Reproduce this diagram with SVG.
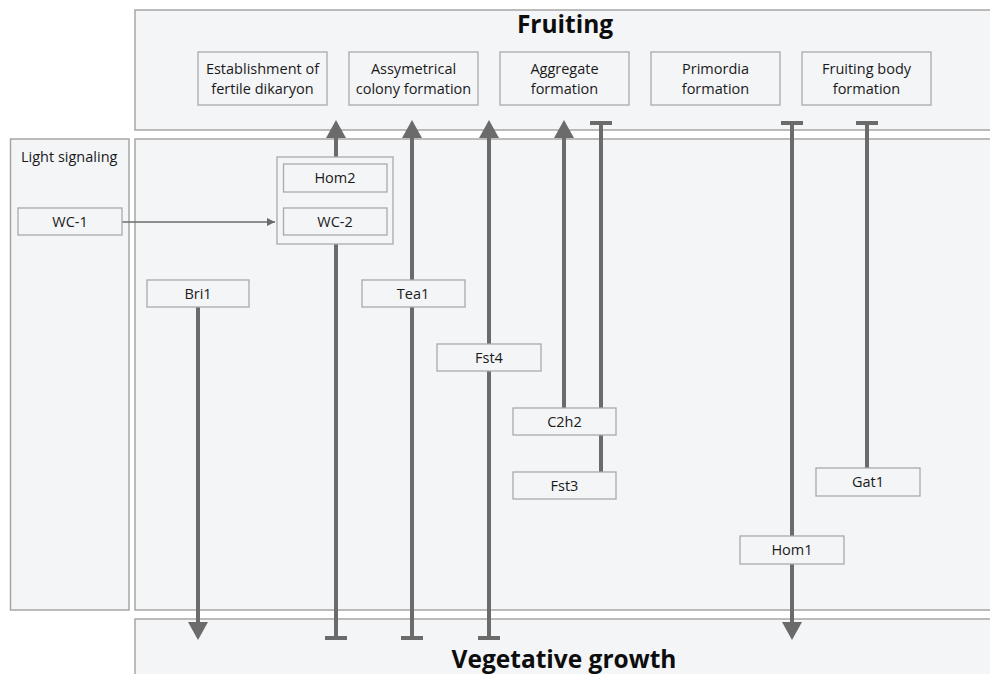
<svg xmlns="http://www.w3.org/2000/svg" width="990" height="674" viewBox="0 0 990 674">
<defs>
<style>
.panel{fill:#f4f5f7;stroke:#a6a6a6;stroke-width:1.5}
.box{fill:#f4f5f7;stroke:#a9a9a9;stroke-width:1.3}
.t{font-family:"Open Sans","DejaVu Sans",sans-serif;font-size:14.5px;fill:#1a1a1a;text-anchor:middle}
.title{font-family:"Open Sans","DejaVu Sans",sans-serif;font-size:24.5px;font-weight:bold;fill:#0d0d0d;text-anchor:middle}
.lbl{font-family:"Open Sans","DejaVu Sans",sans-serif;font-size:14.5px;fill:#1a1a1a}
.c{stroke:#6b6b6b;stroke-width:4;fill:none}
.thin{stroke:#6b6b6b;stroke-width:1.5;fill:none}
</style>
<marker id="arr" markerUnits="userSpaceOnUse" viewBox="0 0 18 20" markerWidth="18" markerHeight="20" refX="0" refY="10" orient="auto">
<path d="M0,0 L18,10 L0,20 z" fill="#6b6b6b"/>
</marker>
<marker id="tee" markerUnits="userSpaceOnUse" viewBox="-2 -11 4 22" markerWidth="4" markerHeight="22" refX="0" refY="0" orient="auto">
<path d="M0,-11 L0,11" stroke="#6b6b6b" stroke-width="4"/>
</marker>
<marker id="small" markerUnits="userSpaceOnUse" viewBox="0 0 8 8" markerWidth="8" markerHeight="8" refX="8" refY="4" orient="auto">
<path d="M0,0 L8,4 L0,8 z" fill="#6b6b6b"/>
</marker>
</defs>
<rect width="990" height="674" fill="#ffffff"/>
<g id="panels">
<rect id="fruiting-panel" class="panel" x="135" y="10" width="870" height="120"/>
<rect id="light-panel" class="panel" x="10.5" y="139" width="118.5" height="471"/>
<rect id="middle-panel" class="panel" x="135" y="139" width="870" height="471"/>
<rect id="vegetative-panel" class="panel" x="135" y="619" width="870" height="70"/>
<text class="title" x="565" y="33">Fruiting</text>
<text class="title" x="564" y="668">Vegetative growth</text>
<text class="lbl" x="21" y="162">Light signaling</text>
</g>
<g id="connectors">
<line class="thin" x1="122" y1="222" x2="275" y2="222" marker-end="url(#small)"/>
<line class="c" x1="198" y1="307" x2="198" y2="622" marker-end="url(#arr)"/>
<line class="c" x1="336" y1="638" x2="336" y2="138" marker-start="url(#tee)" marker-end="url(#arr)"/>
<line class="c" x1="412" y1="638" x2="412" y2="138" marker-start="url(#tee)" marker-end="url(#arr)"/>
<line class="c" x1="489" y1="638" x2="489" y2="138" marker-start="url(#tee)" marker-end="url(#arr)"/>
<line class="c" x1="564" y1="408" x2="564" y2="138" marker-end="url(#arr)"/>
<line class="c" x1="601" y1="472" x2="601" y2="123" marker-end="url(#tee)"/>
<line class="c" x1="792" y1="123" x2="792" y2="622" marker-start="url(#tee)" marker-end="url(#arr)"/>
<line class="c" x1="867" y1="468" x2="867" y2="123" marker-end="url(#tee)"/>
</g>
<g id="node-establishment"><rect class="box" x="198" y="52" width="129" height="53"/><text class="t" x="262.5" y="74">Establishment of</text><text class="t" x="262.5" y="94">fertile dikaryon</text></g>
<g id="node-assymetrical"><rect class="box" x="349" y="52" width="129" height="53"/><text class="t" x="413.5" y="74">Assymetrical</text><text class="t" x="413.5" y="94">colony formation</text></g>
<g id="node-aggregate"><rect class="box" x="500" y="52" width="129" height="53"/><text class="t" x="564.5" y="74">Aggregate</text><text class="t" x="564.5" y="94">formation</text></g>
<g id="node-primordia"><rect class="box" x="651" y="52" width="129" height="53"/><text class="t" x="715.5" y="74">Primordia</text><text class="t" x="715.5" y="94">formation</text></g>
<g id="node-fruitingbody"><rect class="box" x="802" y="52" width="129" height="53"/><text class="t" x="866.5" y="74">Fruiting body</text><text class="t" x="866.5" y="94">formation</text></g>
<g id="node-wc1"><rect class="box" x="18" y="208" width="104" height="27"/><text class="t" x="70" y="226.5">WC-1</text></g>
<g id="node-complex"><rect class="box" x="277" y="157" width="116" height="87"/>
<g id="node-hom2"><rect class="box" x="283.5" y="164" width="103.5" height="28"/><text class="t" x="335" y="183">Hom2</text></g>
<g id="node-wc2"><rect class="box" x="283.5" y="208" width="103.5" height="27"/><text class="t" x="335" y="226.5">WC-2</text></g>
</g>
<g id="node-bri1"><rect class="box" x="147" y="280" width="102" height="27"/><text class="t" x="198" y="298.5">Bri1</text></g>
<g id="node-tea1"><rect class="box" x="362" y="280" width="103" height="27"/><text class="t" x="413" y="298.5">Tea1</text></g>
<g id="node-fst4"><rect class="box" x="437" y="344" width="104" height="27"/><text class="t" x="489" y="362.5">Fst4</text></g>
<g id="node-c2h2"><rect class="box" x="513" y="408" width="103" height="27"/><text class="t" x="564.5" y="426.5">C2h2</text></g>
<g id="node-fst3"><rect class="box" x="513" y="472" width="103" height="27"/><text class="t" x="564.5" y="490.5">Fst3</text></g>
<g id="node-gat1"><rect class="box" x="816" y="468" width="104" height="28"/><text class="t" x="868" y="487">Gat1</text></g>
<g id="node-hom1"><rect class="box" x="740" y="536" width="104" height="28"/><text class="t" x="792" y="555">Hom1</text></g>
</svg>
